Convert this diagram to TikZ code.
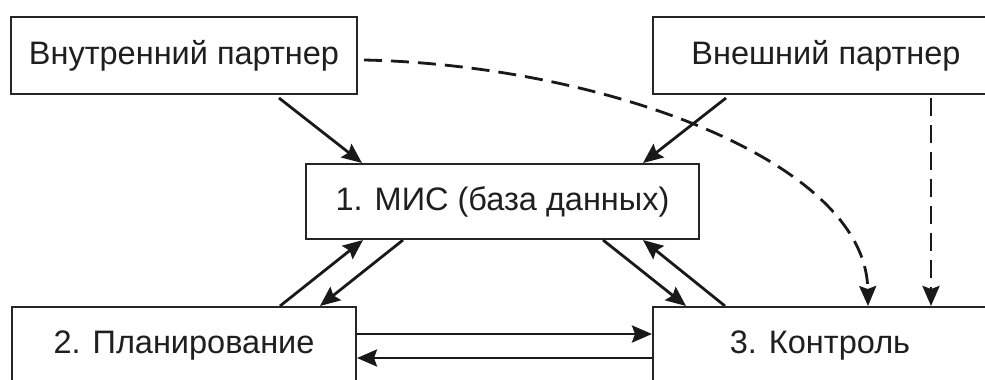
\documentclass[tikz,border=0pt]{standalone}
\usepackage{fontspec}
\setmainfont{Liberation Sans}
\usetikzlibrary{arrows.meta}
\begin{document}
\begin{tikzpicture}[x=1pt,y=-1pt,
  box/.style={draw=black!85,line width=2pt,fill=none,inner sep=0pt,
    font=\fontsize{32.5}{38}\selectfont,text=black!88},
  arr/.style={line width=2.8pt,draw=black!90,-{Stealth[length=20pt,width=17pt,inset=3pt]}},
  darr/.style={arr,dash pattern=on 18pt off 9pt}]
\useasboundingbox (0,0) rectangle (985,380);
\clip (0,0) rectangle (985,380);
\fill[white] (0,0) rectangle (985,380);
\node[box,minimum width=346pt,minimum height=77pt] (A) at (184,55.5) {Внутренний партнер};
\node[box,minimum width=346pt,minimum height=77pt] (B) at (826,55.5) {Внешний партнер};
\node[box,minimum width=393pt,minimum height=75pt] (M) at (502.5,201.5) {1. МИС (база данных)};
\node[box,minimum width=344pt,minimum height=78pt] (P) at (184,346) {2. Планирование};
\node[box,minimum width=334pt,minimum height=78pt] (K) at (820,346) {3. Контроль};
\draw[arr] ([xshift=95pt,yshift=-3pt]A.south) -- ([xshift=-140.5pt]M.north);
\draw[arr] ([xshift=-100pt,yshift=-3pt]B.south) -- ([xshift=140.5pt]M.north);
\draw[arr] ([xshift=96pt]P.north) -- ([xshift=-139.5pt]M.south);
\draw[arr] ([xshift=-99.5pt]M.south) -- ([xshift=136pt]P.north);
\draw[arr] ([xshift=100.5pt]M.south) -- ([xshift=-134pt]K.north);
\draw[arr] ([xshift=-95pt]K.north) -- ([xshift=140.5pt]M.south);
\draw[arr] ([yshift=12pt]P.east) -- ([yshift=12pt]K.west);
\draw[arr] ([yshift=-12pt]K.west) -- ([yshift=-12pt]P.east);
\draw[darr] ([xshift=6pt,yshift=-4.5pt]A.east) .. controls (600,65) and (866,160) .. ([xshift=48pt]K.north);
\draw[darr] ([xshift=105pt,yshift=-3pt]B.south) -- ([xshift=111pt]K.north);
\end{tikzpicture}
\end{document}
